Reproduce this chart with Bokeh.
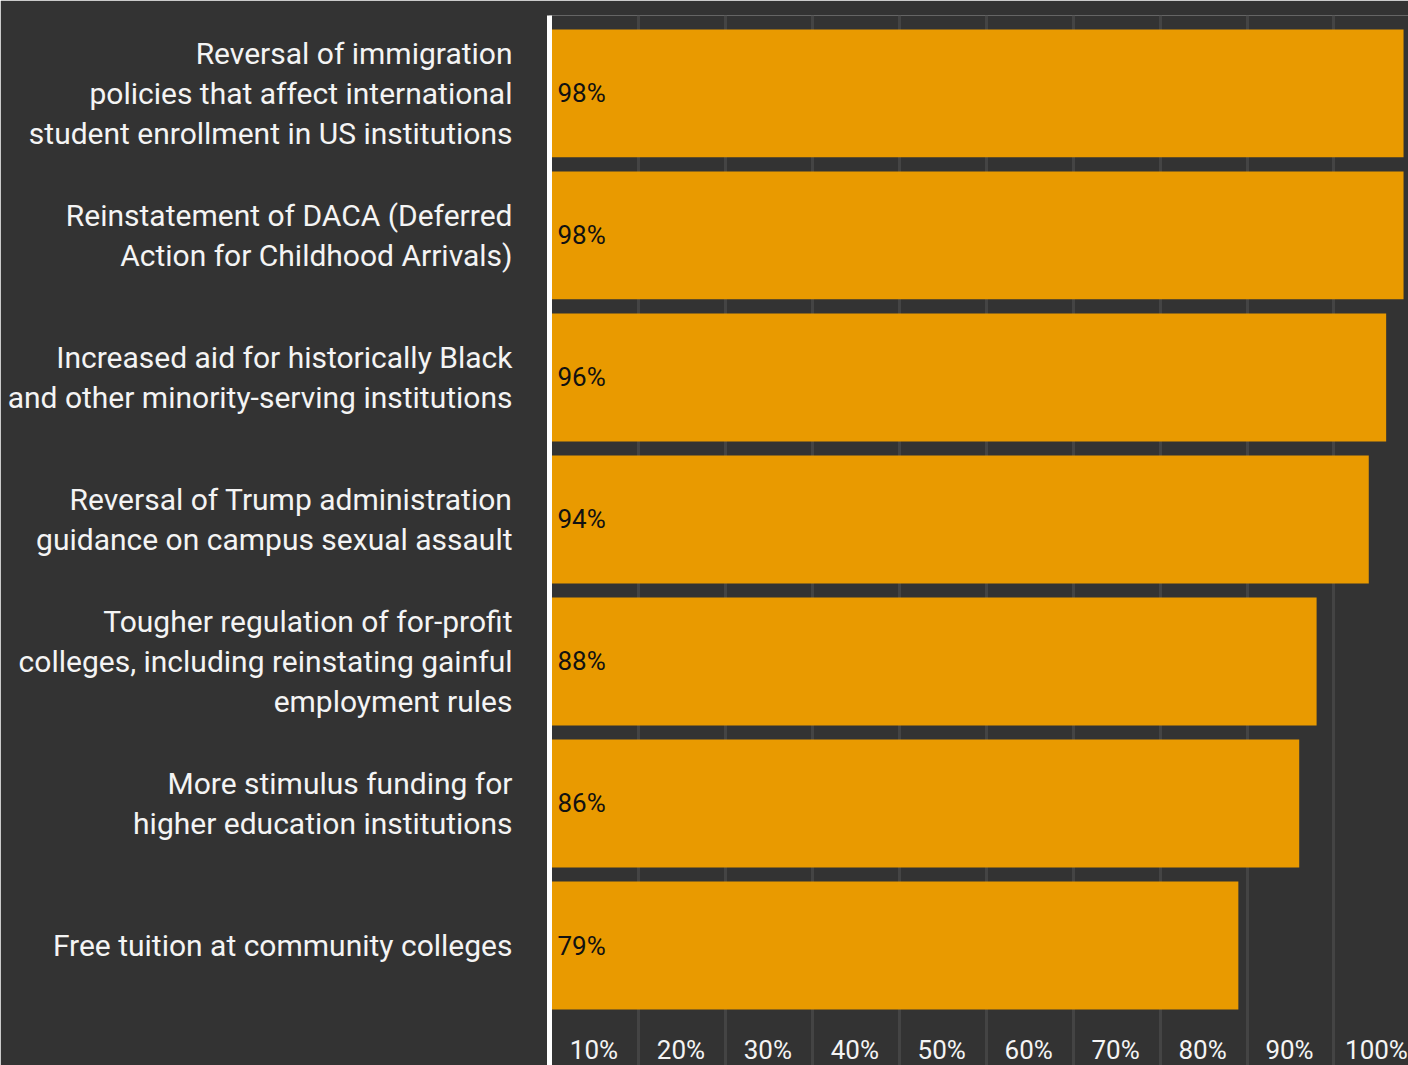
from bokeh.plotting import figure
from bokeh.models import FixedTicker, Range1d, ColumnDataSource
from bokeh.core.properties import value
from bokeh.embed import file_html
from bokeh.resources import INLINE

categories = [
    "Reversal of immigration\npolicies that affect international\nstudent enrollment in US institutions",
    "Reinstatement of DACA (Deferred\nAction for Childhood Arrivals)",
    "Increased aid for historically Black\nand other minority-serving institutions",
    "Reversal of Trump administration\nguidance on campus sexual assault",
    "Tougher regulation of for-profit\ncolleges, including reinstating gainful\nemployment rules",
    "More stimulus funding for\nhigher education institutions",
    "Free tuition at community colleges",
]
support = [98, 98, 96, 94, 88, 86, 79]
tick_values = [10, 20, 30, 40, 50, 60, 70, 80, 90, 100]
tick_labels = ["10%", "20%", "30%", "40%", "50%", "60%", "70%", "80%", "90%", "100%"]

BG = "#333333"
BAR = "#E99A00"
TXT = "#F4F4F4"
FONT = "Roboto"

n = len(categories)
ys = [n - 1 - i for i in range(n)]
src = ColumnDataSource(dict(
    y=ys, v=support, lab=[f"{v}%" for v in support],
))

p = figure(width=1408, height=1065, output_backend="svg", toolbar_location=None,
           x_range=Range1d(-0.23, 98.57), y_range=Range1d(-0.845, 6.549),
           min_border_left=549, min_border_right=0, min_border_top=15, min_border_bottom=0)
p.background_fill_color = BG
p.border_fill_color = BG
p.outline_line_color = None

p.hbar(y="y", left=0, right="v", height=0.9, color=BAR, line_color=None, source=src)
p.text(x=0, y="y", text="lab", x_offset=6, text_align="left", text_baseline="middle",
       text_font=value(FONT), text_font_size="26px", text_color="#111111", source=src)

# bottom tick labels, centred in each 10% band
p.text(x=[t - 5 for t in tick_values], y=[-0.735] * len(tick_values), text=tick_labels,
       x_offset=-1, text_align="center", text_baseline="middle", text_font=value(FONT),
       text_font_size="26px", text_color=TXT)

p.xaxis.visible = False
p.xgrid.ticker = FixedTicker(ticks=tick_values)
p.xgrid.grid_line_color = "#444444"
p.xgrid.grid_line_width = 3
p.ygrid.grid_line_color = None

ax = p.yaxis[0]
ax.ticker = FixedTicker(ticks=ys)
ax.major_label_overrides = {y: c for y, c in zip(ys, categories)}
ax.axis_line_color = "#FFFFFF"
ax.axis_line_width = 5
ax.major_tick_line_color = None
ax.minor_tick_line_color = None
ax.major_label_standoff = 31
ax.major_label_text_font = FONT
ax.major_label_text_font_size = "30px"
ax.major_label_text_color = TXT
ax.major_label_text_line_height = 1.14

open("out.html", "w").write(file_html(p, INLINE))
